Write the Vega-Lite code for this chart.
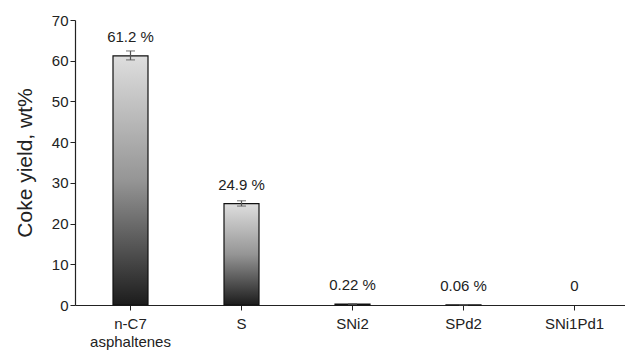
{
  "$schema": "https://vega.github.io/schema/vega-lite/v6.json",
  "width": 555,
  "height": 285,
  "autosize": "none",
  "padding": {"left": 75, "top": 20, "right": 0, "bottom": 49},
  "background": "white",
  "config": {"view": {"stroke": null}, "font": "Liberation Sans"},
  "data": {"values": [
    {"sample": "n-C7 asphaltenes", "yield": 61.2, "lo": 60.2, "hi": 62.4, "label": "61.2 %"},
    {"sample": "S", "yield": 24.9, "lo": 24.3, "hi": 25.6, "label": "24.9 %"},
    {"sample": "SNi2", "yield": 0.22, "lo": 0.17, "hi": 0.27, "label": "0.22 %"},
    {"sample": "SPd2", "yield": 0.06, "lo": 0.04, "hi": 0.08, "label": "0.06 %"},
    {"sample": "SNi1Pd1", "yield": 0, "lo": 0, "hi": 0, "label": "0"}
  ]},
  "encoding": {
    "x": {"field": "sample", "type": "nominal", "sort": null,
      "scale": {"paddingInner": 0.5, "paddingOuter": 0.25},
      "axis": {"title": null, "labelAngle": 0, "labelFontSize": 15, "labelColor": "#222",
        "domainColor": "#222", "domainWidth": 1.2, "tickColor": "#222", "tickSize": 5,
        "labelPadding": 6, "labelLineHeight": 18,
        "labelExpr": "datum.label == 'n-C7 asphaltenes' ? ['n-C7', 'asphaltenes'] : datum.label"}},
    "y": {"type": "quantitative", "scale": {"domain": [0, 70], "nice": false},
      "title": "Coke yield, wt%",
      "axis": {"titleFontSize": 21, "titleFontWeight": "normal", "titleColor": "#222",
          "titlePadding": 16, "labelFontSize": 15, "labelColor": "#222", "values": [0,10,20,30,40,50,60,70],
          "grid": false, "domainColor": "#222", "domainWidth": 1.2, "tickColor": "#222", "tickSize": 5}}
  },
  "layer": [
    {
      "transform": [{"filter": "datum.yield > 0"}],
      "mark": {"type": "bar", "width": 35, "stroke": "#111", "strokeWidth": 1.2,
        "color": {"gradient": "linear", "x1": 0, "y1": 0, "x2": 0, "y2": 1,
          "stops": [{"offset": 0, "color": "#dedede"}, {"offset": 0.5, "color": "#959595"}, {"offset": 1, "color": "#1c1c1c"}]}},
      "encoding": {"y": {"field": "yield", "type": "quantitative", "title": "Coke yield, wt%"}}
    },
    {
      "transform": [{"filter": "datum.yield > 0"}],
      "mark": {"type": "errorbar", "ticks": {"size": 9, "color": "#555"}, "color": "#555", "thickness": 1.2},
      "encoding": {"y": {"field": "lo", "type": "quantitative", "title": "Coke yield, wt%"}, "y2": {"field": "hi"}}
    },
    {
      "mark": {"type": "text", "fontSize": 15, "color": "#222", "baseline": "middle", "dy": -19},
      "encoding": {"y": {"field": "yield", "type": "quantitative", "title": "Coke yield, wt%"}, "text": {"field": "label"}}
    }
  ]
}
